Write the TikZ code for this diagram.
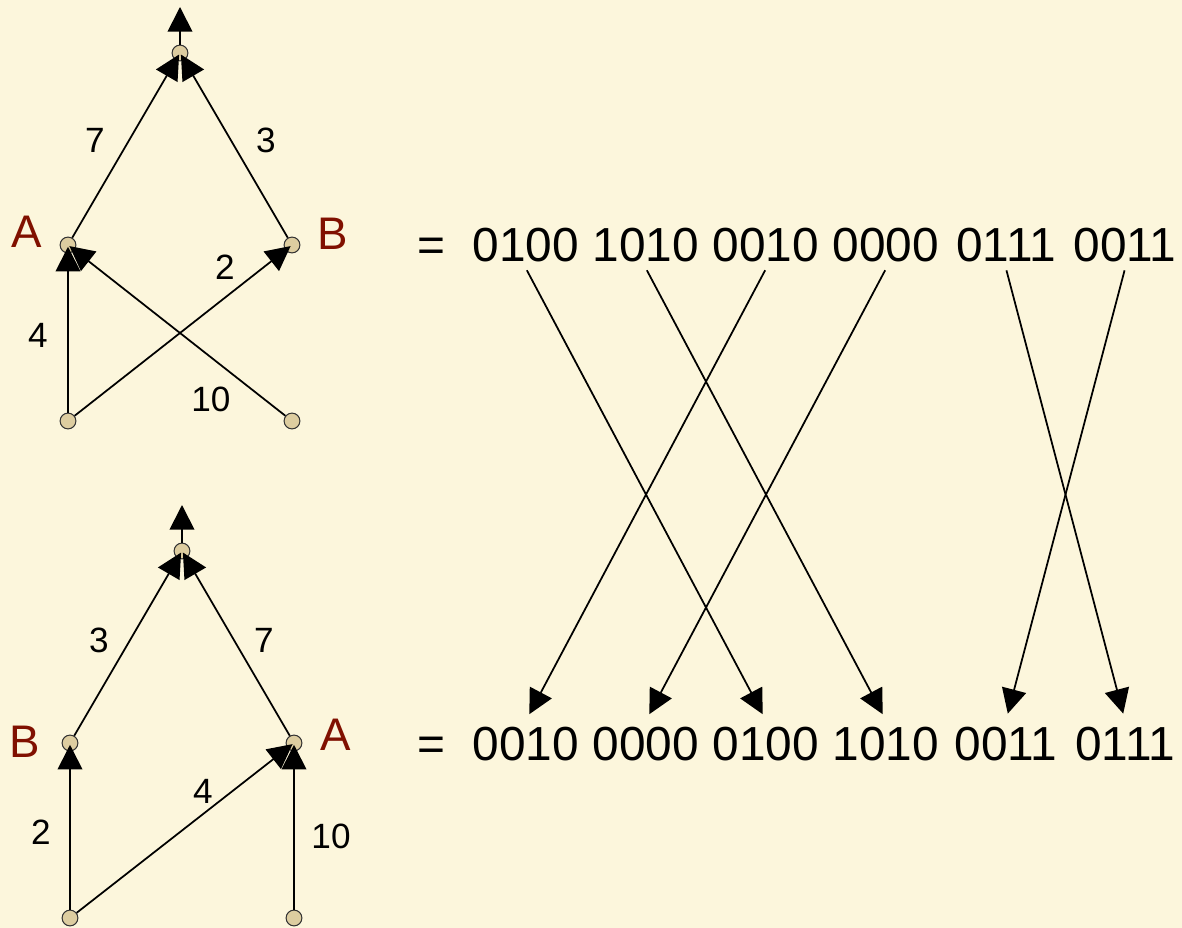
\documentclass[tikz,border=0pt]{standalone}
\usepackage{fontspec}
\setmainfont{Liberation Sans}
\usetikzlibrary{arrows.meta}

\definecolor{paper}{RGB}{252,246,220}
\definecolor{dotfill}{RGB}{221,205,160}
\definecolor{sidered}{RGB}{128,16,0}

\tikzset{
  dot/.style={circle,draw=black!80,line width=0.6pt,fill=dotfill,minimum size=9pt,inner sep=0pt},
  edge/.style={line width=1pt,-{Triangle[length=14pt,width=14pt]}},
  wt/.style={font=\fontsize{20}{24}\selectfont,anchor=base,inner sep=0pt},
  side/.style={font=\fontsize{26}{30}\selectfont,text=sidered,anchor=base,inner sep=0pt},
  bits/.style={font=\fontsize{27.2}{32}\selectfont,anchor=base},
}

\begin{document}
\begin{tikzpicture}[x=0.02cm,y=-0.02cm]
 \fill[paper] (0,0) rectangle (1182,928);
 \useasboundingbox (0,0) rectangle (1182,928);

 % upper tree
 \node[dot] (r1) at (180,53) {};
 \node[dot] (a1) at (68,245) {};
 \node[dot] (b1) at (292,245) {};
 \node[dot] (u1) at (68,421) {};
 \node[dot] (v1) at (292,421) {};
 \coordinate (o1) at (180,7);
 \node[side] at (27,248) {A};
 \node[side] at (333,250) {B};
 \draw[edge] (r1) -- (o1);
 \draw[edge,shorten >=1pt] (a1) -- (r1.center);
 \draw[edge,shorten >=1pt] (b1) -- (r1.center);
 \draw[edge,shorten >=1pt] (u1) -- (a1.center);
 \draw[edge,shorten >=1pt] (u1) -- (b1.center);
 \draw[edge,shorten >=1pt] (v1) -- (a1.center);
 \node[wt] at (95,153) {7};
 \node[wt] at (266,153) {3};
 \node[wt] at (38,348) {4};
 \node[wt] at (225,280) {2};
 \node[wt] at (211,412) {10};

 % lower tree
 \node[dot] (r2) at (182,551) {};
 \node[dot] (b2) at (70,743) {};
 \node[dot] (a2) at (294,743) {};
 \node[dot] (u2) at (70,918) {};
 \node[dot] (v2) at (294,918) {};
 \coordinate (o2) at (182,505);
 \node[side] at (25,757) {B};
 \node[side] at (336,750) {A};
 \draw[edge] (r2) -- (o2);
 \draw[edge,shorten >=1pt] (b2) -- (r2.center);
 \draw[edge,shorten >=1pt] (a2) -- (r2.center);
 \draw[edge,shorten >=1pt] (u2) -- (b2.center);
 \draw[edge,shorten >=1pt] (u2) -- (a2.center);
 \draw[edge,shorten >=1pt] (v2) -- (a2.center);
 \node[wt] at (99,652) {3};
 \node[wt] at (264,652) {7};
 \node[wt] at (41,844) {2};
 \node[wt] at (203,803) {4};
 \node[wt] at (331,848) {10};

 % bit strings
 \node[bits] (e1) at (431,262) {=};
 \node[bits] (t1) at (526,262) {0100};
 \node[bits] (t2) at (646,262) {1010};
 \node[bits] (t3) at (766,262) {0010};
 \node[bits] (t4) at (886,262) {0000};
 \node[bits] (t5) at (1006,262) {0111};
 \node[bits] (t6) at (1125,262) {0011};
 \node[bits] (e2) at (431,760) {=};
 \node[bits] (s1) at (526,760) {0010};
 \node[bits] (s2) at (646,760) {0000};
 \node[bits] (s3) at (766,760) {0100};
 \node[bits] (s4) at (886,760) {1010};
 \node[bits] (s5) at (1006,760) {0011};
 \node[bits] (s6) at (1125,760) {0111};

 \draw[edge,shorten <=1pt,shorten >=4pt] (t1.south) -- (s3.north);
 \draw[edge,shorten <=1pt,shorten >=4pt] (t2.south) -- (s4.north);
 \draw[edge,shorten <=1pt,shorten >=4pt] (t3.south) -- (s1.north);
 \draw[edge,shorten <=1pt,shorten >=4pt] (t4.south) -- (s2.north);
 \draw[edge,shorten <=1pt,shorten >=4pt] (t5.south) -- (s6.north);
 \draw[edge,shorten <=1pt,shorten >=4pt] (t6.south) -- (s5.north);
\end{tikzpicture}
\end{document}
